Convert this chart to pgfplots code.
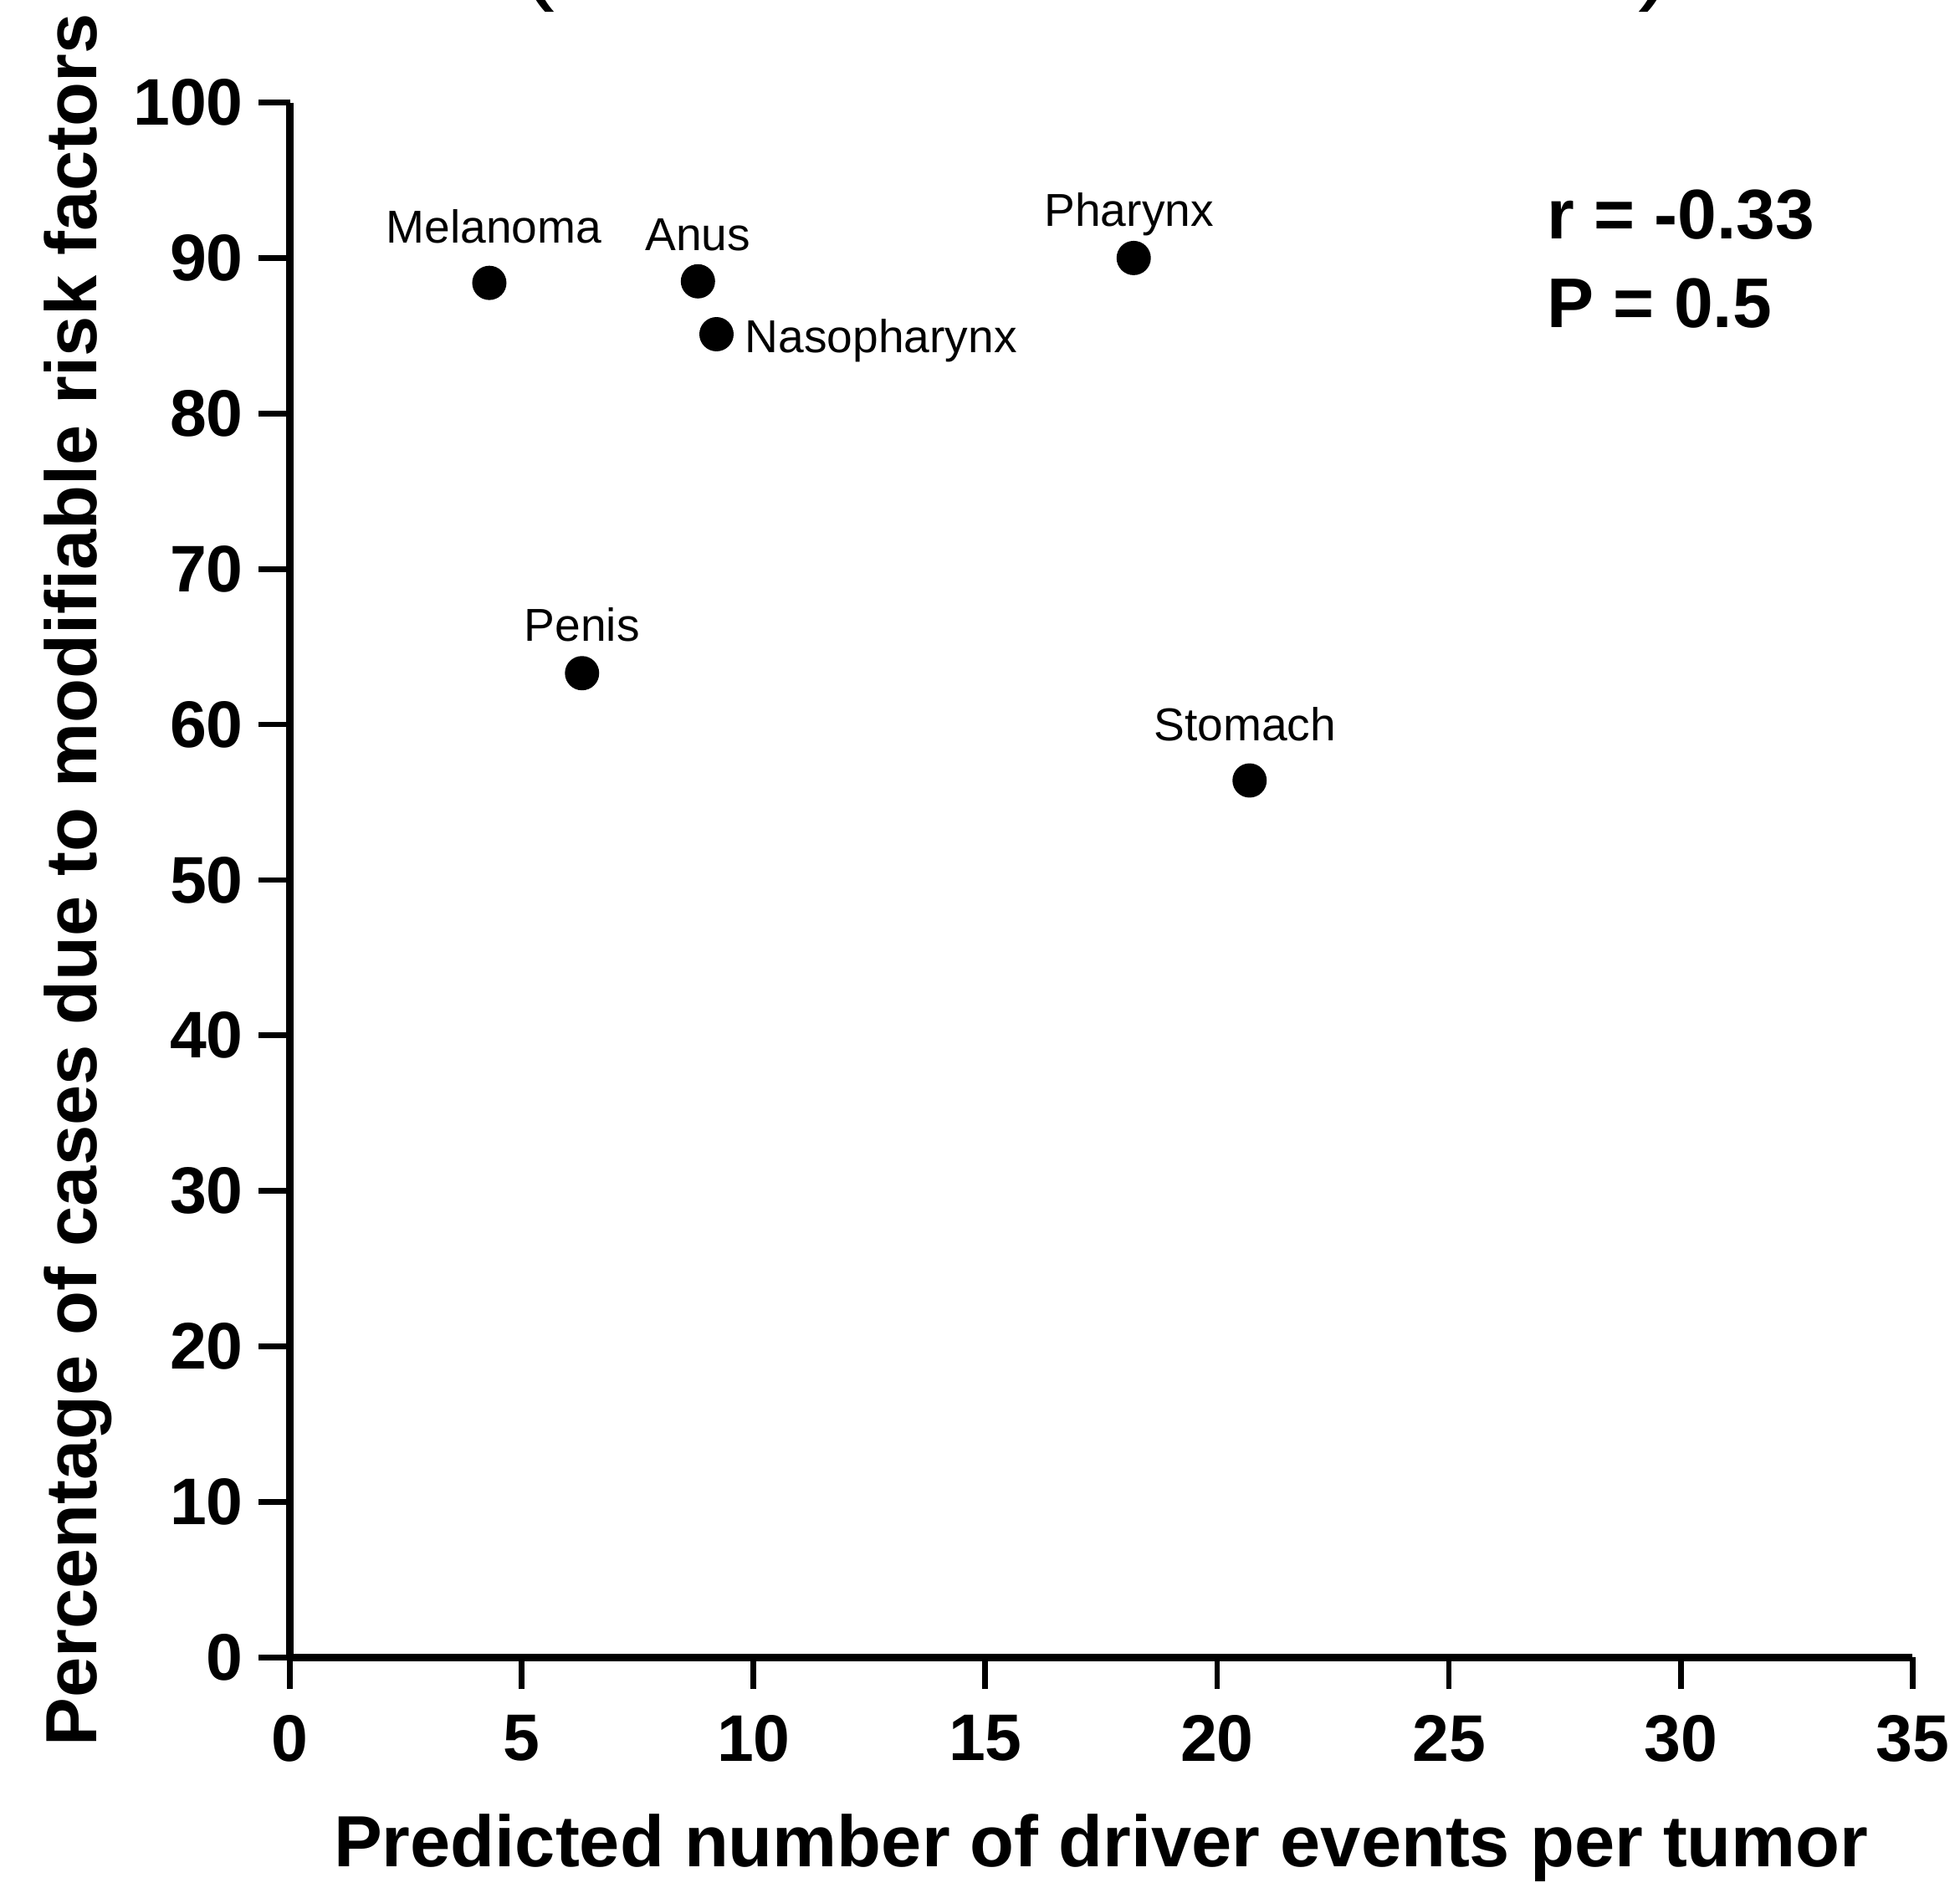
\documentclass[border=0pt]{standalone}
\usepackage{fontspec}
\setmainfont{Liberation Sans}
\usepackage{pgfplots}
\pgfplotsset{compat=1.18}

\begin{document}
\begin{tikzpicture}
\begin{axis}[
    scale only axis,
    width=12.98cm,
    height=12.44cm,
    xmin=0, xmax=35,
    ymin=0, ymax=100,
    xtick={0,5,...,35},
    ytick={0,10,...,100},
    axis lines=left,
    axis line style={-, line width=1.8pt},
    tick style={black, line width=1.3pt},
    major tick length=0.25cm,
    tick align=outside,
    /pgf/number format/assume math mode=true,
    ticklabel style={font=\fontsize{15}{18}\selectfont\bfseries},
    xticklabel style={yshift=-2.5pt},
    xlabel={Predicted number of driver events per tumor},
    ylabel={Percentage of cases due to modifiable risk factors},
    label style={font=\fontsize{16.5}{20}\selectfont\bfseries},
    xlabel shift=5pt,
    ylabel shift=-2pt,
    clip=false,
]
\addplot[only marks, mark=*, mark size=3.7pt, black] coordinates {
    (4.3, 88.4)
    (8.8, 88.5)
    (9.2, 85.1)
    (18.2, 90.0)
    (6.3, 63.3)
    (20.7, 56.4)
};
\node[font=\fontsize{10.5}{12}\selectfont] at (axis cs:4.4,92.0) {Melanoma};
\node[font=\fontsize{10.5}{12}\selectfont] at (axis cs:8.8,91.5) {Anus};
\node[font=\fontsize{10.5}{12}\selectfont, anchor=west, inner sep=0pt] at (axis cs:9.8,84.7) {Nasopharynx};
\node[font=\fontsize{10.5}{12}\selectfont] at (axis cs:18.1,92.8) {Pharynx};
\node[font=\fontsize{10.5}{12}\selectfont] at (axis cs:6.3,66.4) {Penis};
\node[font=\fontsize{10.5}{12}\selectfont] at (axis cs:20.6,60.0) {Stomach};
\node[font=\fontsize{16}{20}\selectfont\bfseries, anchor=west, inner sep=0pt] at (axis cs:27.1,92.8) {r = -0.33};
\node[font=\fontsize{16}{20}\selectfont\bfseries, anchor=west, inner sep=0pt] at (axis cs:27.1,87.1) {P = 0.5};
\end{axis}
% remnants of the cropped title above the chart
\node[font=\fontsize{24}{28}\selectfont, anchor=base] at (1.98,13.34) {(};
\node[font=\fontsize{24}{28}\selectfont, anchor=base] at (10.93,13.34) {)};
\pgfresetboundingbox
\useasboundingbox (-2.32,-1.80) rectangle (13.36,13.26);
\end{tikzpicture}
\end{document}
